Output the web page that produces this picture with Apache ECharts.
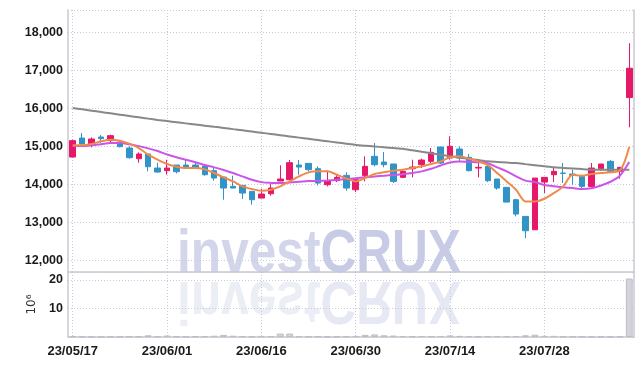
<!DOCTYPE html>
<html><head><meta charset="utf-8">
<script src="https://cdn.jsdelivr.net/npm/echarts@6/dist/echarts.min.js"></script>
<style>html,body{margin:0;padding:0;background:#fff}#c{width:642px;height:366px}</style>
</head><body><div id="c"></div>
<script>
const dates = ['23/05/17','23/05/18','23/05/19','23/05/22','23/05/23','23/05/24','23/05/25','23/05/26','23/05/30','23/05/31',
'23/06/01','23/06/02','23/06/05','23/06/07','23/06/08','23/06/09','23/06/12','23/06/13','23/06/14','23/06/15',
'23/06/16','23/06/19','23/06/20','23/06/21','23/06/22','23/06/23','23/06/26','23/06/27','23/06/28','23/06/29',
'23/06/30','23/07/03','23/07/04','23/07/05','23/07/06','23/07/07','23/07/10','23/07/11','23/07/12','23/07/13',
'23/07/14','23/07/17','23/07/18','23/07/19','23/07/20','23/07/21','23/07/24','23/07/25','23/07/26','23/07/27',
'23/07/28','23/07/31','23/08/01','23/08/02','23/08/03','23/08/04','23/08/07','23/08/08','23/08/09','23/08/10'];
// [open, close, low, high]
const ohlc = [
[14722,15154,14714,15180],[15224,15066,15048,15356],[15066,15198,14978,15242],[15250,15206,15092,15303],[15154,15286,15092,15312],
[15118,14995,14978,15136],[14960,14705,14678,15004],[14678,14802,14573,14846],[14802,14467,14344,14802],[14432,14326,14309,14573],
[14362,14432,14256,14652],[14511,14335,14291,14511],[14511,14432,14432,14652],[14511,14432,14432,14608],[14485,14256,14230,14500],
[14362,14168,14098,14476],[14194,13904,13596,14194],[13948,13904,13904,14230],[13974,13772,13614,13974],[13816,13596,13464,13816],
[13640,13746,13640,13886],[13754,13904,13702,14010],[14089,14142,14089,14502],[14124,14573,14124,14643],[14511,14458,14256,14643],
[14555,14388,14344,14555],[14414,14036,13974,14476],[13992,14098,13948,14362],[14098,14186,14062,14274],[14238,13904,13834,14318],
[13860,14124,13798,14168],[14238,14476,14080,14740],[14740,14520,14476,15092],[14590,14520,14450,14854],[14538,14080,14036,14538],
[14186,14344,14168,14388],[14414,14458,14186,14652],[14520,14643,14432,14678],[14608,14846,14564,14960],[14986,14564,14538,14986],
[14696,15004,14652,15268],[14934,14696,14608,15004],[14714,14362,14344,14802],[14432,14450,14186,14626],[14476,14098,14062,14476],
[14142,13904,13860,14142],[13922,13534,13534,13922],[13596,13218,13156,13622],[13156,12778,12584,13156],[12804,14168,12804,14168],
[14062,14186,13772,14186],[14256,14344,14062,14450],[14300,14290,14036,14564],[14274,14238,13992,14388],[14212,13948,13904,14256],
[13948,14432,13922,14564],[14414,14538,14362,14538],[14608,14344,14344,14643],[14344,14450,14150,14450],[16290,17064,15506,17724]];
const ma5 = [15030,15030,15066,15136,15180,15154,15074,14960,14784,14652,
14538,14467,14432,14432,14397,14300,14186,14080,13948,13878,
13834,13860,13948,14080,14212,14318,14344,14344,14256,14160,
14080,14168,14274,14318,14362,14388,14432,14476,14538,14608,
14714,14740,14678,14608,14510,14300,14080,13860,13552,13552,
13622,13772,13948,14256,14230,14274,14300,14318,14362,14996];
const ma10 = [15010,15010,15030,15060,15090,15092,15060,15010,14950,14880,
14790,14715,14650,14585,14510,14450,14380,14300,14212,14124,
14060,14040,14036,14050,14070,14090,14095,14105,14120,14140,
14165,14186,14210,14230,14250,14270,14300,14344,14414,14500,
14580,14605,14595,14585,14560,14450,14344,14212,14100,14060,
13985,13950,13925,13905,13880,13900,13970,14070,14230,14590];
const maLong = [16015,15980,15945,15910,15875,15840,15805,15770,15735,15700,
15670,15640,15610,15580,15550,15520,15490,15458,15426,15394,
15362,15330,15298,15266,15234,15202,15170,15138,15106,15074,
15042,15020,15000,14980,14960,14940,14900,14860,14820,14780,
14740,14707,14674,14641,14608,14593,14578,14564,14535,14507,
14478,14450,14435,14420,14404,14390,14388,14386,14385,14384];
// volume in millions of shares
const volume = [0.2,0.15,0.12,0.1,0.15,0.12,0.2,0.18,0.6,0.2,
0.5,0.2,0.15,0.2,0.25,0.45,0.75,0.45,0.2,0.2,
0.25,0.3,1.2,1.2,0.25,0.2,0.2,0.15,0.15,0.2,
0.3,0.75,0.9,0.6,0.5,0.25,0.2,0.35,0.2,0.35,
0.55,0.4,0.3,0.2,0.3,0.35,0.25,0.35,0.6,0.8,
0.4,0.4,0.2,0.2,0.15,0.15,0.15,0.12,0.2,20.5];
const priceTicks = [12000,13000,14000,15000,16000,17000,18000];
const volTicks = [10,20];

const UP = '#e6186a', DOWN = '#3194c6';
const F = "'Liberation Sans',Arial,sans-serif";
const gridLine = {show:true, lineStyle:{color:'#c6cadf', type:[1,2], width:1}};
const xLabel = {fontFamily:F, fontWeight:'bold', fontSize:13, color:'#1a1a1a'};
const yLabel = {fontFamily:F, fontWeight:'bold', fontSize:12.5, color:'#1a1a1a'};
const edge = {show:true, lineStyle:{color:'#c8c8d0', width:1.5}};
const wm = "bold 62px 'Liberation Sans',Arial,sans-serif";

const chart = echarts.init(document.getElementById('c'));
chart.setOption({
  animation:false,
  grid:[{left:68,right:8,top:10,height:262},{left:68,right:8,top:272,height:65}],
  xAxis:[
    {type:'category', gridIndex:0, data:dates, boundaryGap:true,
     axisLine:edge, axisTick:{show:false}, axisLabel:{show:false},
     splitLine:Object.assign({interval:9, alignWithLabel:true}, gridLine)},
    {type:'category', gridIndex:1, data:dates, boundaryGap:true,
     axisLine:edge, axisTick:{show:false},
     axisLabel:Object.assign({interval:9, margin:8}, xLabel),
     splitLine:Object.assign({interval:9, alignWithLabel:true}, gridLine)}
  ],
  yAxis:[
    {type:'value', gridIndex:0, min:11690, max:18600, splitNumber:7, scale:true,
     axisLine:edge, axisTick:{show:false}, splitLine:gridLine,
     axisLabel:Object.assign({margin:5, formatter:v=>priceTicks.includes(v)?v.toLocaleString('en-US'):''}, yLabel)},
    {type:'value', gridIndex:1, min:0, max:22.8, interval:10,
     name:'10⁶', nameLocation:'middle', nameRotate:90, nameGap:30,
     nameTextStyle:{fontFamily:'DejaVu Sans', fontSize:12, color:'#333'},
     axisLine:edge, axisTick:{show:false}, splitLine:gridLine,
     axisLabel:Object.assign({margin:5, formatter:v=>volTicks.includes(v)?String(v):''}, yLabel)},
    {type:'value', gridIndex:0, position:'right', min:11690, max:18600,
     axisLine:edge, axisTick:{show:false}, axisLabel:{show:false}, splitLine:{show:false}},
    {type:'value', gridIndex:1, position:'right', min:0, max:22.8,
     axisLine:edge, axisTick:{show:false}, axisLabel:{show:false}, splitLine:{show:false}}
  ],
  graphic:[
    {type:'text', z:0, x:319, y:277, scaleX:0.8,
     style:{x:0, y:9.3, text:'{a|invest}{b|CRUX}', align:'center', verticalAlign:'bottom',
       rich:{a:{font:wm, fill:'#d3d6ea', lineHeight:62},
             b:{font:wm, fill:'#c7cbe5', lineHeight:62}}}},
    {type:'text', z:0, x:319, y:277, scaleX:0.8, scaleY:-1,
     style:{x:0, y:9.3, text:'{a|invest}{b|CRUX}', align:'center', verticalAlign:'bottom',
       rich:{a:{font:wm, fill:'#eceef6', lineHeight:62},
             b:{font:wm, fill:'#e6e8f3', lineHeight:62}}}}
  ],
  series:[
    {type:'candlestick', xAxisIndex:0, yAxisIndex:0, data:ohlc, barWidth:6, z:3,
     itemStyle:{color:UP, color0:DOWN, borderColor:UP, borderColor0:DOWN, borderWidth:1}},
    {type:'line', xAxisIndex:0, yAxisIndex:0, data:maLong, symbol:'none', smooth:0.2, z:4,
     lineStyle:{color:'#888', width:2}},
    {type:'line', xAxisIndex:0, yAxisIndex:0, data:ma10, symbol:'none', smooth:0.3, z:4,
     lineStyle:{color:'#cc55e8', width:2}},
    {type:'line', xAxisIndex:0, yAxisIndex:0, data:ma5, symbol:'none', smooth:0.3, z:5,
     lineStyle:{color:'#ef8a4c', width:2}},
    {type:'bar', xAxisIndex:1, yAxisIndex:1, data:volume, barWidth:'72%', z:3,
     itemStyle:{color:'#d4d4dc', borderColor:'#bdbdc6', borderWidth:1}}
  ]
});
</script></body></html>
